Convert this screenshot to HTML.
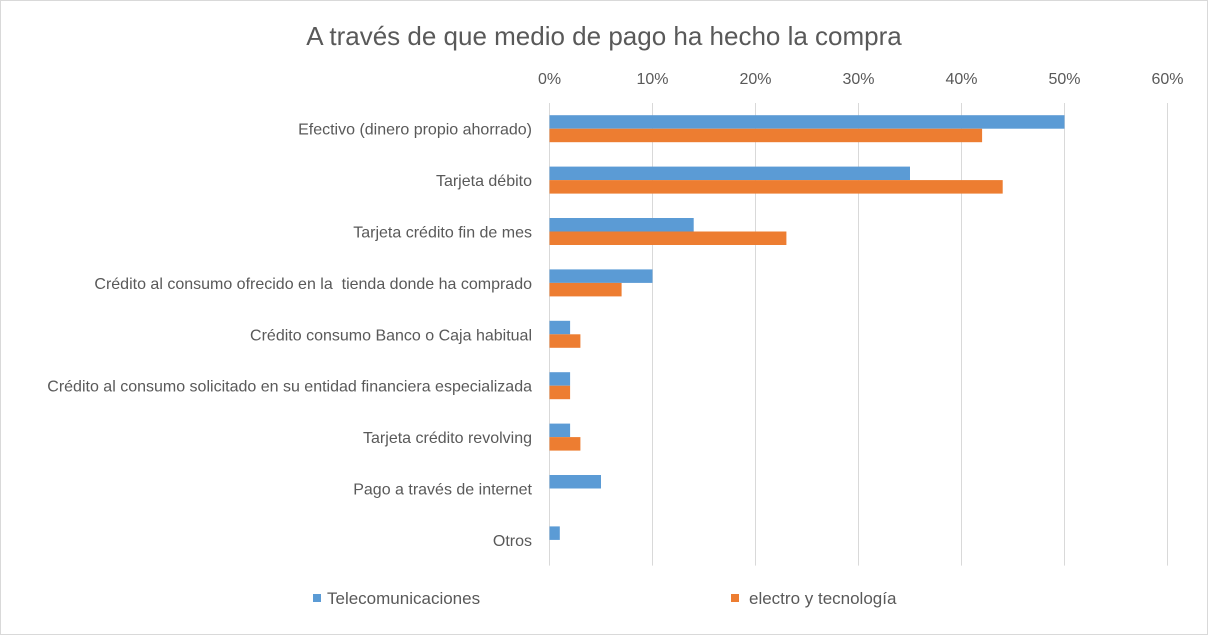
<!DOCTYPE html>
<html><head><meta charset="utf-8"><style>
body{margin:0;background:#fff}
svg text{font-family:"Liberation Sans",sans-serif;white-space:pre}
</style></head><body>
<svg width="1208" height="635">
<rect x="0.5" y="0.5" width="1207" height="634" fill="#fff" stroke="#d9d9d9"/>
<text x="604" y="45" text-anchor="middle" font-size="26" fill="#595959">A través de que medio de pago ha hecho la compra</text>
<g id="grid"></g><g id="bars"></g><g id="labels"></g>
<g>
<rect x="313" y="594" width="8" height="8" fill="#5b9bd5"/>
<text x="327" y="604" font-size="17" fill="#595959">Telecomunicaciones</text>
<rect x="731" y="594" width="8" height="8" fill="#ed7d31"/>
<text x="749" y="604" font-size="17" fill="#595959">electro y tecnología</text>
</g>
</svg>
<script>
const categories=["Efectivo (dinero propio ahorrado)","Tarjeta débito","Tarjeta crédito fin de mes","Crédito al consumo ofrecido en la  tienda donde ha comprado","Crédito consumo Banco o Caja habitual","Crédito al consumo solicitado en su entidad financiera especializada","Tarjeta crédito revolving","Pago a través de internet","Otros"];
const telecom=[50,35,14,10,2,2,2,5,1];
const electro=[42,44,23,7,3,2,3,0,0];
const ticks=[0,10,20,30,40,50,60];
const ns="http://www.w3.org/2000/svg";
const x0=549.5,pxPer=10.3,plotTop=103,band=51.4;
const xs=v=>x0+v*pxPer;
function mk(t,a,p){const e=document.createElementNS(ns,t);for(const k in a)e.setAttribute(k,a[k]);p.appendChild(e);return e;}
const g=document.getElementById('grid'),b=document.getElementById('bars'),l=document.getElementById('labels');
ticks.forEach(t=>{
 const ln=mk('line',{x1:xs(t),x2:xs(t),y1:plotTop,y2:plotTop+band*categories.length,stroke:'#d9d9d9'},g);
 
 
 const tx=mk('text',{x:xs(t),y:84,'text-anchor':'middle','font-size':16,fill:'#595959'},g);
 tx.textContent=t+'%';
 
 
});
categories.forEach((c,i)=>{
 const cy=plotTop+band*i+band/2;
 const r1=mk('rect',{x:x0,y:cy-13.5,width:telecom[i]*pxPer,height:13.5,fill:'#5b9bd5'},b);
 
 
 const r2=mk('rect',{x:x0,y:cy,width:electro[i]*pxPer,height:13.5,fill:'#ed7d31'},b);
 
 
 const tx=mk('text',{x:532,y:cy+6,'text-anchor':'end','font-size':16,fill:'#595959'},l);
 tx.textContent=c;
 
 
});
</script>
</body></html>
